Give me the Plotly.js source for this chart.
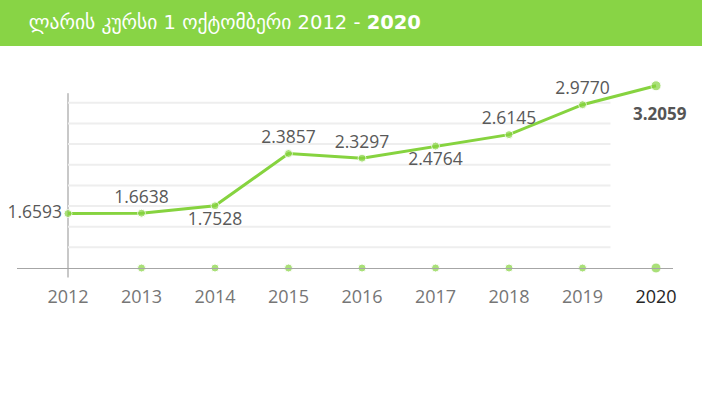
<!DOCTYPE html>
<html>
<head>
<meta charset="utf-8">
<script src="https://cdn.plot.ly/plotly-3.0.1.min.js"></script>
<style>
  html, body { margin: 0; padding: 0; background: #ffffff; }
  #chart { width: 702px; height: 400px; }
</style>
</head>
<body>
<div id="chart"></div>
<script>
// ---- data ----
const years = [2012, 2013, 2014, 2015, 2016, 2017, 2018, 2019, 2020];
const tickLabels = ['2012', '2013', '2014', '2015', '2016', '2017', '2018', '2019', '2020'];
const rates = [1.6593, 1.6638, 1.7528, 2.3857, 2.3297, 2.4764, 2.6145, 2.9770, 3.2059];
const baseSeries = [null, 1.0, 1.0, 1.0, 1.0, 1.0, 1.0, 1.0, 1.0];
const gridValues = [1.25, 1.5, 1.75, 2.0, 2.25, 2.5, 2.75, 3.0];
const labelPositions = ['middle left', 'top center', 'bottom center', 'top center', 'top center',
                        'bottom center', 'top center', 'top center', 'bottom center'];
const titleText = 'ლარის კურსი 1 ოქტომბერი 2012 - <b>2020</b>';

// ---- styling ----
const green = '#86d33f';
const last = years.length - 1;
const markerSizes = years.map((y, i) => i === last ? 10 : 8);

const mainTrace = {
  x: years,
  y: rates,
  type: 'scatter',
  mode: 'lines+markers+text',
  line: { color: green, width: 3 },
  marker: { color: green, size: markerSizes },
  // last label drawn as annotation (further below its point)
  text: rates.map((v, i) => i === last ? '' : v.toFixed(4)),
  textposition: labelPositions,
  textfont: { family: '"Open Sans", sans-serif', size: 17.5, color: '#595959' },
  cliponaxis: false,
  hoverinfo: 'skip',
  showlegend: false
};

const baseTrace = {
  x: years,
  y: baseSeries,
  type: 'scatter',
  mode: 'markers',
  marker: { color: green, size: markerSizes },
  cliponaxis: false,
  hoverinfo: 'skip',
  showlegend: false
};

const gridShapes = gridValues.map(v => ({
  type: 'line', xref: 'x', yref: 'y',
  x0: years[0], x1: 2019.38, y0: v, y1: v,
  line: { color: '#eeeeee', width: 2 },
  layer: 'below'
}));

const shapes = [
  // title banner
  { type: 'rect', xref: 'paper', yref: 'paper', x0: -0.03, x1: 1.05, y0: 1.168, y1: 1.45,
    fillcolor: '#88d445', line: { width: 0 }, layer: 'below' },
  // vertical axis line at the first category
  { type: 'line', xref: 'x', yref: 'paper', x0: years[0], x1: years[0], y0: -0.05, y1: 0.92,
    line: { color: '#c8c8c8', width: 2 }, layer: 'below' }
].concat(gridShapes);

const annotations = [{
  xref: 'x', yref: 'y',
  x: years[last], y: rates[last],
  text: '<b>' + rates[last].toFixed(4) + '</b>',
  showarrow: false,
  xanchor: 'center', yanchor: 'middle',
  xshift: 4, yshift: -28,
  font: { family: '"Open Sans", sans-serif', size: 17, color: '#555555' }
}];

const layout = {
  width: 702,
  height: 400,
  margin: { l: 17, r: 29, t: 78, b: 132 },
  paper_bgcolor: '#ffffff',
  plot_bgcolor: '#ffffff',
  title: {
    text: titleText,
    font: { family: '"DejaVu Sans", sans-serif', size: 19.5, color: '#ffffff' },
    xref: 'container', yref: 'container',
    x: 0.041, xanchor: 'left',
    y: 0.945, yanchor: 'middle'
  },
  xaxis: {
    type: 'linear',
    range: [2011.306, 2020.231],
    tickvals: years,
    ticktext: tickLabels.map((t, i) => i === last ? '<span style="color:#262626">' + t + '</span>' : t),
    tickfont: { family: '"Open Sans", sans-serif', size: 18, color: '#767676' },
    ticks: '',
    ticklabelstandoff: 12,
    showgrid: false,
    zeroline: false,
    showline: true,
    linecolor: '#a6a6a6',
    linewidth: 1,
    fixedrange: true
  },
  yaxis: {
    range: [1.0, 3.3],
    showgrid: false,
    zeroline: false,
    showline: false,
    showticklabels: false,
    ticks: '',
    fixedrange: true
  },
  shapes: shapes,
  annotations: annotations,
  showlegend: false
};

Plotly.newPlot('chart', [mainTrace, baseTrace], layout, { staticPlot: true, displayModeBar: false });
</script>
</body>
</html>
